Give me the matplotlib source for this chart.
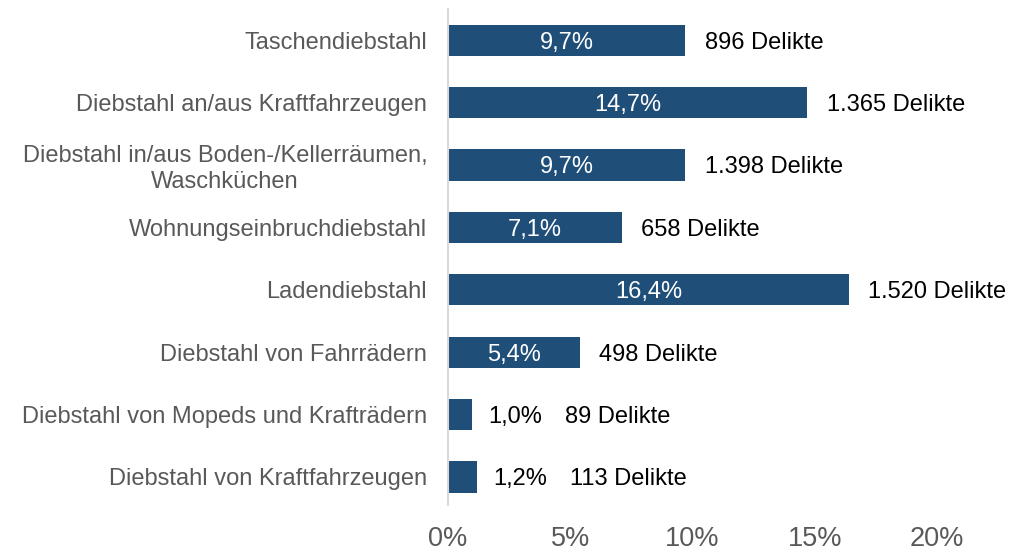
import matplotlib.pyplot as plt

plt.rcParams['font.family'] = ['Liberation Sans', 'DejaVu Sans']

categories = ['Taschendiebstahl',
              'Diebstahl an/aus Kraftfahrzeugen',
              'Diebstahl in/aus Boden-/Kellerräumen,\nWaschküchen',
              'Wohnungseinbruchdiebstahl',
              'Ladendiebstahl',
              'Diebstahl von Fahrrädern',
              'Diebstahl von Mopeds und Krafträdern',
              'Diebstahl von Kraftfahrzeugen']
anteil = [9.7, 14.7, 9.7, 7.1, 16.4, 5.4, 1.0, 1.2]
delikte = ['896', '1.365', '1.398', '658', '1.520', '498', '89', '113']
xticks = [0, 5, 10, 15, 20]

barcol = '#1f4e79'
grey = '#595959'

fig = plt.figure(figsize=(10.25, 5.52), dpi=100)
ax = fig.add_axes([448/1025, 1-505/552, (937-448)/1025, 496/552])

ypos = list(range(len(categories)))
ax.barh(ypos, anteil, height=0.5, color=barcol)
ax.set_xlim(0, 20)
ax.set_ylim(7.45, -0.5)

for y, v, d in zip(ypos, anteil, delikte):
    pct = ('%.1f%%' % v).replace('.', ',')
    if v >= 3:
        ax.text(v / 2, y, pct, color='white', fontsize=17, ha='center', va='center_baseline')
        ax.annotate(d + ' Delikte', (v, y), xytext=(14, 0), textcoords='offset points',
                    fontsize=17, ha='left', va='center_baseline', color='black',
                    annotation_clip=False)
    else:
        ax.annotate(pct, (v, y), xytext=(11.5, 0), textcoords='offset points',
                    fontsize=17, ha='left', va='center_baseline', color='black')
        ax.annotate(d + ' Delikte', (v, y), xytext=(66.5, 0), textcoords='offset points',
                    fontsize=17, ha='left', va='center_baseline', color='black')

ax.set_yticks(ypos)
ax.set_yticklabels(categories, fontsize=17, color=grey, ha='right', multialignment='center')
ax.tick_params(axis='y', length=0, pad=15)
ax.set_xticks(xticks)
ax.set_xticklabels(['%d%%' % t for t in xticks], fontsize=19.5, color=grey)
ax.tick_params(axis='x', length=0, pad=15)

for s in ['top', 'right', 'bottom']:
    ax.spines[s].set_visible(False)
ax.spines['left'].set_color('#d9d9d9')
ax.spines['left'].set_linewidth(1.5)

fig.savefig('out.png', dpi=100)
